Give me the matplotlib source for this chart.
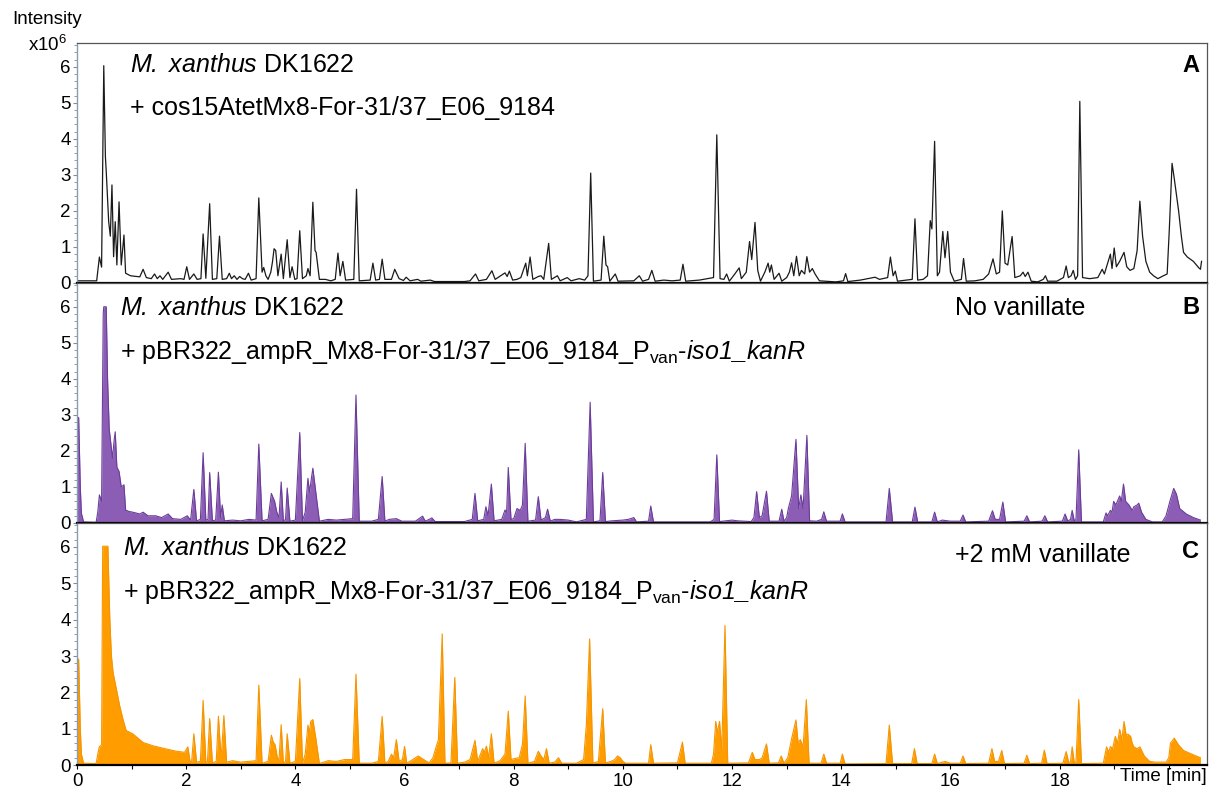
import matplotlib.pyplot as plt
from matplotlib.ticker import MultipleLocator, FixedLocator
import numpy as np

plt.rcParams['font.family'] = ['Liberation Sans', 'DejaVu Sans']
plt.rcParams['mathtext.fontset'] = 'custom'
plt.rcParams['mathtext.rm'] = 'Liberation Sans'
plt.rcParams['mathtext.it'] = 'Liberation Sans:italic'
# \mathsf is used for italic runs that contain digits (mathtext's \it sets digits upright)
plt.rcParams['mathtext.sf'] = 'Liberation Sans:italic'
plt.rcParams['mathtext.bf'] = 'Liberation Sans:bold'

# chromatogram vertices (time [min], intensity x10^6)
trace_a = [
    (0.0, 0.06), (0.36, 0.06), (0.41, 0.72), (0.45, 0.44), (0.49, 6.03), (0.52, 3.5), (0.535, 3.1),
    (0.58, 1.7), (0.61, 1.3), (0.64, 2.72), (0.67, 0.73), (0.70, 1.7), (0.73, 0.5), (0.77, 2.25),
    (0.81, 0.5), (0.86, 1.33), (0.89, 0.27), (0.98, 0.2), (1.15, 0.17), (1.21, 0.38), (1.27, 0.15),
    (1.36, 0.12), (1.42, 0.25), (1.47, 0.12), (1.52, 0.2), (1.57, 0.1), (1.67, 0.3), (1.73, 0.1),
    (1.9, 0.12), (1.96, 0.1), (2.01, 0.45), (2.06, 0.1), (2.14, 0.25), (2.2, 0.1), (2.27, 0.12),
    (2.31, 1.36), (2.36, 0.13), (2.43, 2.2), (2.48, 0.1), (2.56, 0.12), (2.61, 1.3), (2.66, 0.1),
    (2.74, 0.12), (2.79, 0.27), (2.83, 0.12), (2.88, 0.2), (2.93, 0.1), (2.98, 0.18), (3.03, 0.12),
    (3.08, 0.1), (3.14, 0.27), (3.19, 0.08), (3.28, 0.12), (3.33, 2.36), (3.39, 0.3), (3.42, 0.43),
    (3.46, 0.2), (3.5, 0.1), (3.55, 0.3), (3.58, 0.58), (3.61, 0.95), (3.64, 0.9), (3.68, 0.2),
    (3.74, 0.8), (3.78, 0.12), (3.85, 1.2), (3.9, 0.15), (3.94, 0.45), (3.99, 0.1), (4.03, 0.12),
    (4.08, 1.45), (4.13, 0.12), (4.2, 0.2), (4.23, 0.4), (4.27, 0.2), (4.32, 2.24), (4.36, 0.9),
    (4.38, 0.85), (4.44, 0.1), (4.55, 0.1), (4.65, 0.06), (4.73, 0.1), (4.78, 0.83), (4.82, 0.2),
    (4.87, 0.6), (4.92, 0.08), (5.07, 0.1), (5.12, 2.6), (5.17, 0.06), (5.37, 0.08), (5.42, 0.55),
    (5.47, 0.08), (5.54, 0.1), (5.59, 0.66), (5.64, 0.1), (5.76, 0.1), (5.82, 0.38), (5.9, 0.12),
    (5.98, 0.07), (6.03, 0.16), (6.1, 0.06), (6.24, 0.1), (6.3, 0.05), (6.47, 0.08), (6.55, 0.04),
    (7.1, 0.04), (7.2, 0.06), (7.3, 0.25), (7.36, 0.06), (7.5, 0.1), (7.6, 0.34), (7.66, 0.1),
    (7.76, 0.2), (7.84, 0.28), (7.88, 0.18), (7.92, 0.33), (7.98, 0.08), (8.06, 0.1), (8.13, 0.15),
    (8.22, 0.55), (8.25, 0.2), (8.3, 0.72), (8.35, 0.1), (8.45, 0.18), (8.5, 0.2), (8.55, 0.1),
    (8.64, 1.1), (8.69, 0.1), (8.8, 0.2), (8.85, 0.06), (8.98, 0.15), (9.05, 0.06), (9.2, 0.12),
    (9.3, 0.08), (9.36, 0.2), (9.41, 3.05), (9.46, 0.05), (9.6, 0.08), (9.65, 1.3), (9.69, 0.5),
    (9.72, 0.45), (9.76, 0.05), (9.86, 0.25), (9.91, 0.05), (10.2, 0.06), (10.3, 0.2), (10.36, 0.05),
    (10.47, 0.1), (10.53, 0.35), (10.59, 0.05), (10.75, 0.08), (10.9, 0.06), (11.05, 0.08),
    (11.1, 0.52), (11.15, 0.05), (11.4, 0.08), (11.55, 0.12), (11.66, 0.15), (11.72, 4.11),
    (11.78, 0.12), (11.85, 0.1), (11.9, 0.25), (11.95, 0.05), (12.05, 0.25), (12.13, 0.42),
    (12.17, 0.12), (12.26, 0.3), (12.32, 1.15), (12.36, 0.65), (12.42, 1.68), (12.47, 0.35),
    (12.52, 0.05), (12.6, 0.3), (12.66, 0.55), (12.69, 0.3), (12.72, 0.5), (12.77, 0.1),
    (12.86, 0.27), (12.91, 0.05), (13.0, 0.15), (13.05, 0.3), (13.09, 0.56), (13.13, 0.2),
    (13.18, 0.74), (13.23, 0.2), (13.27, 0.35), (13.33, 0.25), (13.37, 0.73), (13.42, 0.3),
    (13.47, 0.4), (13.52, 0.25), (13.6, 0.06), (13.9, 0.03), (14.04, 0.06), (14.08, 0.26),
    (14.12, 0.04), (14.35, 0.08), (14.55, 0.14), (14.62, 0.16), (14.7, 0.1), (14.85, 0.15),
    (14.9, 0.72), (14.95, 0.2), (14.99, 0.33), (15.03, 0.05), (15.2, 0.08), (15.3, 0.1),
    (15.35, 1.78), (15.4, 0.08), (15.5, 0.1), (15.58, 0.2), (15.63, 1.73), (15.66, 1.5),
    (15.71, 3.93), (15.76, 0.2), (15.8, 0.3), (15.86, 1.43), (15.9, 0.7), (15.95, 1.43),
    (16.0, 0.3), (16.07, 0.05), (16.2, 0.1), (16.24, 0.68), (16.29, 0.05), (16.45, 0.06),
    (16.6, 0.1), (16.7, 0.25), (16.78, 0.67), (16.84, 0.25), (16.9, 0.3), (16.95, 2.0),
    (17.0, 0.55), (17.05, 0.5), (17.13, 1.29), (17.18, 0.15), (17.28, 0.2), (17.33, 0.3),
    (17.37, 0.18), (17.42, 0.3), (17.48, 0.05), (17.6, 0.03), (17.7, 0.1), (17.74, 0.2),
    (17.78, 0.05), (17.95, 0.05), (18.07, 0.15), (18.12, 0.47), (18.16, 0.15), (18.21, 0.2),
    (18.25, 0.35), (18.29, 0.1), (18.33, 0.2), (18.37, 5.04), (18.42, 0.15), (18.55, 0.12),
    (18.7, 0.15), (18.78, 0.38), (18.82, 0.25), (18.86, 0.45), (18.93, 0.8), (18.96, 0.4),
    (19.0, 0.97), (19.04, 0.45), (19.1, 0.6), (19.18, 0.85), (19.23, 0.45), (19.29, 0.35),
    (19.36, 0.4), (19.42, 0.9), (19.47, 2.27), (19.52, 1.3), (19.58, 0.6), (19.65, 0.3),
    (19.72, 0.2), (19.8, 0.12), (19.9, 0.2), (19.97, 0.25), (20.01, 1.5), (20.06, 3.32),
    (20.1, 2.9), (20.18, 2.0), (20.23, 1.3), (20.27, 0.85), (20.34, 0.72), (20.45, 0.6),
    (20.55, 0.42), (20.58, 0.38), (20.6, 0.6),
]

trace_b = [
    (0.0, 2.8), (0.03, 2.93), (0.06, 1.0), (0.08, 0.27), (0.12, 0.03), (0.35, 0.02), (0.38, 0.3),
    (0.41, 0.78), (0.45, 0.6), (0.48, 5.8), (0.49, 6.0), (0.535, 6.0), (0.56, 3.97), (0.59, 2.6),
    (0.61, 2.34), (0.65, 1.8), (0.68, 2.3), (0.70, 2.53), (0.73, 1.55), (0.77, 1.43), (0.81, 1.0),
    (0.86, 1.06), (0.89, 0.36), (0.95, 0.32), (1.02, 0.3), (1.15, 0.25), (1.21, 0.3), (1.3, 0.2),
    (1.44, 0.2), (1.55, 0.15), (1.67, 0.25), (1.75, 0.12), (1.9, 0.1), (2.02, 0.2), (2.08, 0.08),
    (2.14, 0.93), (2.19, 0.06), (2.26, 0.1), (2.31, 1.95), (2.36, 0.08), (2.4, 0.1), (2.43, 1.4),
    (2.48, 0.06), (2.54, 0.08), (2.59, 1.41), (2.63, 0.15), (2.66, 0.5), (2.7, 0.06), (2.85, 0.08),
    (3.0, 0.06), (3.15, 0.1), (3.28, 0.08), (3.33, 2.19), (3.39, 0.06), (3.5, 0.1), (3.56, 0.82),
    (3.62, 0.6), (3.66, 0.3), (3.7, 0.15), (3.74, 1.14), (3.78, 0.05), (3.82, 0.1), (3.85, 0.97),
    (3.9, 0.05), (4.0, 0.08), (4.08, 2.51), (4.13, 0.06), (4.18, 0.3), (4.23, 1.24), (4.26, 0.85),
    (4.29, 1.2), (4.32, 1.52), (4.37, 0.9), (4.44, 0.05), (4.6, 0.1), (4.75, 0.08), (4.9, 0.1),
    (5.05, 0.12), (5.11, 3.55), (5.17, 0.05), (5.4, 0.05), (5.52, 0.1), (5.59, 1.29), (5.64, 0.05),
    (5.72, 0.1), (5.85, 0.12), (5.95, 0.05), (6.2, 0.05), (6.33, 0.19), (6.38, 0.05), (6.45, 0.1),
    (6.5, 0.14), (6.56, 0.04), (7.1, 0.04), (7.24, 0.1), (7.29, 0.82), (7.34, 0.06), (7.45, 0.1),
    (7.49, 0.45), (7.53, 0.2), (7.59, 1.08), (7.64, 0.06), (7.78, 0.1), (7.84, 0.36), (7.87, 0.3),
    (7.9, 1.54), (7.95, 0.1), (8.0, 0.12), (8.06, 0.4), (8.12, 0.35), (8.16, 0.5), (8.21, 2.21),
    (8.26, 0.05), (8.4, 0.08), (8.45, 0.73), (8.5, 0.08), (8.58, 0.15), (8.62, 0.38), (8.67, 0.05),
    (8.75, 0.1), (8.85, 0.1), (9.0, 0.08), (9.15, 0.03), (9.33, 0.1), (9.4, 3.35), (9.46, 0.03),
    (9.58, 0.06), (9.63, 1.4), (9.68, 0.04), (9.8, 0.06), (10.0, 0.08), (10.1, 0.1), (10.2, 0.15),
    (10.25, 0.03), (10.47, 0.05), (10.51, 0.47), (10.56, 0.03), (11.6, 0.03), (11.67, 0.1),
    (11.72, 1.89), (11.77, 0.04), (12.0, 0.08), (12.1, 0.06), (12.35, 0.04), (12.4, 0.15),
    (12.45, 0.87), (12.5, 0.15), (12.55, 0.2), (12.63, 0.88), (12.68, 0.05), (12.86, 0.05),
    (12.91, 0.38), (12.95, 0.05), (13.0, 0.15), (13.03, 0.4), (13.09, 0.75), (13.17, 2.32),
    (13.22, 0.4), (13.26, 0.78), (13.3, 0.4), (13.37, 2.43), (13.42, 0.06), (13.55, 0.05),
    (13.64, 0.1), (13.68, 0.31), (13.73, 0.05), (13.98, 0.05), (14.02, 0.25), (14.07, 0.03),
    (14.82, 0.03), (14.88, 0.96), (14.94, 0.03), (15.3, 0.03), (15.35, 0.44), (15.4, 0.03),
    (15.66, 0.03), (15.71, 0.3), (15.76, 0.03), (15.85, 0.08), (16.0, 0.05), (16.18, 0.05),
    (16.23, 0.22), (16.28, 0.03), (16.7, 0.05), (16.77, 0.34), (16.82, 0.1), (16.9, 0.1),
    (16.96, 0.58), (17.01, 0.03), (17.35, 0.05), (17.4, 0.2), (17.45, 0.03), (17.68, 0.05),
    (17.73, 0.2), (17.78, 0.03), (18.05, 0.05), (18.1, 0.25), (18.15, 0.05), (18.2, 0.1),
    (18.23, 0.35), (18.27, 0.05), (18.3, 0.1), (18.35, 2.03), (18.4, 0.03), (18.8, 0.03),
    (18.85, 0.28), (18.88, 0.2), (18.93, 0.35), (18.96, 0.3), (18.99, 0.6), (19.03, 0.5),
    (19.1, 0.75), (19.13, 0.6), (19.17, 1.08), (19.21, 0.6), (19.27, 0.5), (19.33, 0.35),
    (19.36, 0.45), (19.42, 0.5), (19.45, 0.55), (19.5, 0.3), (19.58, 0.1), (19.7, 0.03),
    (19.88, 0.03), (19.95, 0.2), (20.02, 0.6), (20.09, 0.96), (20.14, 0.8), (20.2, 0.4),
    (20.32, 0.25), (20.45, 0.15), (20.58, 0.08),
]

trace_c = [
    (0.0, 2.7), (0.03, 2.92), (0.06, 1.0), (0.08, 0.3), (0.12, 0.05), (0.35, 0.04), (0.38, 0.3),
    (0.41, 0.51), (0.45, 0.55), (0.47, 6.02), (0.565, 6.02), (0.6, 4.03), (0.63, 3.0), (0.66, 2.55),
    (0.72, 2.1), (0.78, 1.64), (0.84, 1.27), (0.9, 0.95), (1.02, 0.86), (1.21, 0.62), (1.39, 0.53),
    (1.64, 0.44), (1.82, 0.38), (1.97, 0.35), (2.03, 0.5), (2.07, 0.1), (2.1, 0.1), (2.14, 0.86),
    (2.19, 0.08), (2.26, 0.1), (2.31, 1.78), (2.36, 0.06), (2.39, 0.1), (2.43, 1.28), (2.48, 0.06),
    (2.55, 0.1), (2.59, 1.34), (2.63, 0.4), (2.65, 0.4), (2.69, 1.36), (2.74, 0.08), (2.85, 0.12),
    (3.0, 0.08), (3.15, 0.1), (3.28, 0.12), (3.33, 2.2), (3.39, 0.05), (3.5, 0.1), (3.56, 0.82),
    (3.59, 0.65), (3.63, 0.55), (3.67, 0.2), (3.7, 0.15), (3.74, 1.11), (3.78, 0.05), (3.82, 0.1),
    (3.85, 0.86), (3.9, 0.05), (4.0, 0.1), (4.08, 2.38), (4.13, 0.05), (4.18, 0.3), (4.23, 1.1),
    (4.26, 0.9), (4.28, 1.2), (4.32, 1.25), (4.37, 0.78), (4.44, 0.04), (4.6, 0.12), (4.75, 0.1),
    (4.9, 0.15), (5.05, 0.15), (5.11, 2.5), (5.17, 0.05), (5.4, 0.05), (5.52, 0.1), (5.59, 1.34),
    (5.64, 0.05), (5.7, 0.1), (5.76, 0.3), (5.8, 0.2), (5.85, 0.7), (5.9, 0.1), (5.96, 0.15),
    (6.0, 0.51), (6.04, 0.05), (6.15, 0.15), (6.25, 0.25), (6.35, 0.15), (6.45, 0.06), (6.52, 0.2),
    (6.58, 0.51), (6.62, 0.69), (6.69, 3.61), (6.74, 0.05), (6.85, 0.06), (6.92, 2.41), (6.97, 0.05),
    (7.1, 0.08), (7.2, 0.15), (7.29, 0.68), (7.34, 0.1), (7.43, 0.45), (7.46, 0.35), (7.5, 0.52),
    (7.54, 0.2), (7.59, 0.86), (7.64, 0.05), (7.75, 0.12), (7.84, 0.3), (7.9, 1.48), (7.95, 0.15),
    (8.02, 0.18), (8.1, 0.2), (8.16, 0.57), (8.21, 1.9), (8.26, 0.05), (8.38, 0.1), (8.45, 0.38),
    (8.5, 0.25), (8.55, 0.15), (8.6, 0.45), (8.65, 0.05), (8.75, 0.08), (8.82, 0.2), (8.88, 0.05),
    (9.15, 0.05), (9.28, 0.15), (9.33, 1.1), (9.39, 3.47), (9.45, 0.05), (9.55, 0.1), (9.63, 1.55),
    (9.68, 0.06), (9.78, 0.1), (9.85, 0.15), (9.9, 0.25), (9.95, 0.2), (10.0, 0.1), (10.05, 0.05),
    (10.47, 0.05), (10.51, 0.56), (10.56, 0.05), (11.0, 0.06), (11.09, 0.63), (11.14, 0.05),
    (11.62, 0.05), (11.66, 0.3), (11.7, 1.2), (11.73, 0.9), (11.77, 1.2), (11.81, 0.4),
    (11.87, 3.84), (11.92, 0.05), (12.3, 0.06), (12.37, 0.35), (12.42, 0.15), (12.5, 0.15),
    (12.55, 0.2), (12.63, 0.58), (12.68, 0.05), (12.85, 0.06), (12.9, 0.25), (12.95, 0.05),
    (13.02, 0.2), (13.09, 0.72), (13.17, 1.24), (13.21, 0.6), (13.25, 0.7), (13.3, 0.5),
    (13.36, 1.8), (13.41, 0.05), (13.63, 0.05), (13.68, 0.3), (13.73, 0.05), (13.98, 0.05),
    (14.02, 0.3), (14.07, 0.03), (14.82, 0.04), (14.88, 1.1), (14.94, 0.04), (15.29, 0.04),
    (15.34, 0.45), (15.39, 0.04), (15.66, 0.04), (15.71, 0.3), (15.76, 0.04), (15.9, 0.1),
    (16.0, 0.05), (16.18, 0.05), (16.23, 0.25), (16.28, 0.04), (16.7, 0.05), (16.76, 0.45),
    (16.81, 0.1), (16.88, 0.1), (16.94, 0.4), (16.99, 0.04), (17.35, 0.05), (17.4, 0.27),
    (17.45, 0.04), (17.67, 0.05), (17.72, 0.41), (17.77, 0.04), (18.06, 0.05), (18.12, 0.37),
    (18.17, 0.05), (18.2, 0.1), (18.23, 0.5), (18.27, 0.05), (18.3, 0.1), (18.35, 1.8),
    (18.4, 0.04), (18.8, 0.05), (18.86, 0.5), (18.9, 0.35), (18.93, 0.51), (18.97, 0.45),
    (19.02, 0.79), (19.06, 0.6), (19.1, 0.98), (19.14, 0.7), (19.18, 1.2), (19.22, 0.8),
    (19.25, 0.85), (19.3, 0.79), (19.33, 0.6), (19.36, 0.5), (19.42, 0.45), (19.47, 0.5),
    (19.55, 0.25), (19.65, 0.1), (19.75, 0.08), (19.95, 0.08), (20.0, 0.2), (20.03, 0.6),
    (20.1, 0.74), (20.18, 0.55), (20.27, 0.4), (20.42, 0.3), (20.58, 0.2),
]

strain = r"$\mathsf{M.}$ $\mathsf{xanthus}$ DK1622"
constructs = [
    "+ cos15AtetMx8-For-31/37_E06_9184",
    r"+ pBR322_ampR_Mx8-For-31/37_E06_9184_P$_{\rm van}$-$\mathsf{iso1\_kanR}$",
    r"+ pBR322_ampR_Mx8-For-31/37_E06_9184_P$_{\rm van}$-$\mathsf{iso1\_kanR}$",
]
conditions = ["", "No vanillate", "+2 mM vanillate"]
panel_letters = ["A", "B", "C"]

x_ticks = [0, 2, 4, 6, 8, 10, 12, 14, 16, 18, 20]
x_tick_labels = ["0", "2", "4", "6", "8", "10", "12", "14", "16", "18", ""]
y_ticks = [0, 1, 2, 3, 4, 5, 6]

fig = plt.figure(figsize=(12.11, 7.9), dpi=100)
left, width = 0.0636, 0.9331
bottoms = [0.6418, 0.3380, 0.0316]
heights = [0.3038, 0.3038, 0.3064]
axes = [fig.add_axes([left, b, width, h]) for b, h in zip(bottoms, heights)]

traces = [trace_a, trace_b, trace_c]
text_y = [(0.908, 0.729), (0.896, 0.713), (0.896, 0.715)]
text_x = [0.047, 0.038, 0.041]

for i, ax in enumerate(axes):
    t, v = np.array(traces[i]).T
    if i == 0:
        ax.plot(t, v, color='#1a1a1a', lw=0.9)
    elif i == 1:
        ax.fill_between(t, 0, v, color='#8c5db4', lw=0)
        ax.plot(t, v, color='#6a3d9a', lw=0.8)
    else:
        ax.fill_between(t, 0, v, color='#ff9c00', lw=0)
        ax.plot(t, v, color='#f59500', lw=0.8)

    ax.set_xlim(0, 20.7)
    ax.set_ylim(0, 6.66)
    ax.yaxis.set_major_locator(FixedLocator(y_ticks))
    ax.yaxis.set_minor_locator(MultipleLocator(0.2))
    ax.xaxis.set_major_locator(FixedLocator(x_ticks))
    ax.xaxis.set_minor_locator(MultipleLocator(1))
    ax.tick_params(axis='y', which='major', length=3, width=0.8, color='#7f8fa0',
                   labelsize=13.5, pad=1.5)
    ax.tick_params(axis='y', which='minor', length=2, width=0.6, color='#7f8fa0')
    ax.tick_params(axis='x', which='both', direction='out', length=3, width=0.8,
                   labelsize=13.5, pad=3)

    for side in ['top', 'right']:
        ax.spines[side].set_color('#555555')
        ax.spines[side].set_linewidth(0.9)
    ax.spines['left'].set_color('#8c9cae')
    ax.spines['left'].set_linewidth(1.0)
    ax.spines['bottom'].set_color('black')
    ax.spines['bottom'].set_linewidth(1.6)

    if i < 2:
        ax.tick_params(axis='x', which='both', bottom=False, labelbottom=False)
    else:
        ax.set_xticklabels(x_tick_labels)

    ax.text(text_x[i], text_y[i][0], strain, transform=ax.transAxes,
            fontsize=18, va='center', ha='left')
    ax.text(text_x[i], text_y[i][1], constructs[i], transform=ax.transAxes,
            fontsize=18, va='center', ha='left')
    if conditions[i]:
        ax.text(0.777, text_y[i][0] - (0.0 if i == 1 else 0.03), conditions[i],
                transform=ax.transAxes, fontsize=18, va='center', ha='left')
    ax.text(0.993, text_y[i][0] - (0.0 if i < 2 else 0.015), panel_letters[i],
            transform=ax.transAxes, fontsize=17, fontweight='bold', va='center', ha='right')

fig.text(0.0099, 0.975, "Intensity", fontsize=13.5, va='center', ha='left')
fig.text(0.023, 0.943, r"x10$^6$", fontsize=13.5, va='center', ha='left')
fig.text(0.9967, 0.0165, "Time [min]", fontsize=13.5, va='center', ha='right')

fig.savefig('out.png', dpi=100)
